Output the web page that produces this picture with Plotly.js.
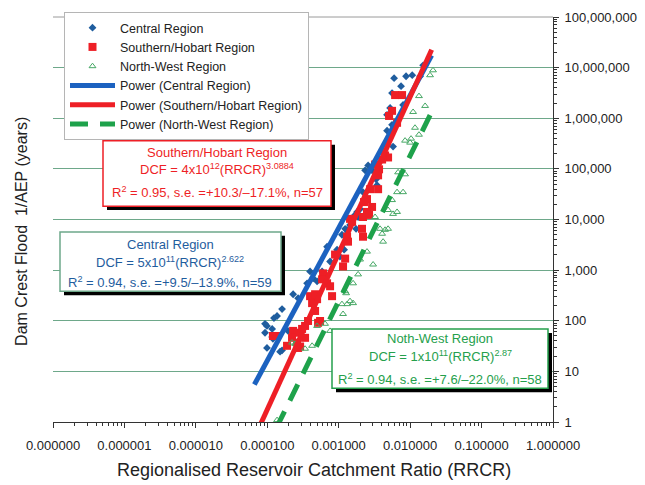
<!DOCTYPE html>
<html>
<head>
<meta charset="utf-8">
<script src="https://cdn.plot.ly/plotly-3.0.1.min.js"></script>
<style>html,body{margin:0;padding:0;background:#fff;}#chart{width:645px;height:485px;}</style>
</head>
<body>
<div id="chart"></div>
<script>
// ---------------- DATA ----------------
const centralX = [5.24e-3, 7.96e-3, 5.96e-3, 8.77e-3, 7.46e-3, 1.38e-2, 5.58e-3, 4.75e-3, 1.52e-2, 4.75e-3,
  5.58e-3, 5.77e-3, 2.58e-3, 2.93e-3, 2.34e-3, 3.33e-3, 3.44e-3, 2.19e-3, 1.81e-3, 1.99e-3,
  1.69e-3, 1.87e-3, 1.44e-3, 1.23e-3, 1.75e-3, 1.31e-3, 1.11e-3, 1.27e-3, 6.87e-4, 1.19e-3,
  9.48e-4, 1.04e-3, 7.57e-4, 3.97e-4, 5.85e-4, 4.38e-4, 4.98e-4, 3.61e-4, 2.30e-4, 2.70e-4,
  1.61e-4, 1.24e-4, 1.37e-4, 9.3e-5, 9.9e-5, 1.17e-4, 9.3e-5, 1.2e-4, 9.9e-5, 1.61e-4,
  1.95e-4, 1.51e-4, 1.17e-4, 1.07e-2, 4.18e-3];
const centralY = [1.60e6, 1.83e6, 6.18e6, 6.76e6, 4.31e6, 6.76e6, 3.14e6, 1.17e6, 1.11e7, 5.67e5,
  7.43e5, 2.76e5, 1.17e5, 9.35e4, 9.35e4, 6.23e4, 4.75e4, 3.47e4, 1.41e4, 1.61e4,
  1.23e4, 1.12e4, 7.83e3, 6.55e3, 6.55e3, 6.26e3, 5.0e3, 5.0e3, 2.91e3, 2.54e3,
  2.54e3, 1.85e3, 1.48e3, 944, 944, 688, 600, 549, 334, 279,
  170, 113, 124, 87, 79, 69, 58, 44, 29, 26,
  63, 24.5, 48, 7.08e6, 2.1e5];

const southX = [6.16e-3, 7.71e-3, 5.58e-3, 5.07e-3, 6.56e-3, 4.46e-3, 4.91e-3, 4.05e-3, 3.67e-3, 3.23e-3,
  3.56e-3, 3.56e-3, 2.75e-3, 2.49e-3, 2.26e-3, 2.93e-3, 2.49e-3, 2.66e-3, 1.44e-3, 1.54e-3,
  2.19e-3, 2.12e-3, 2.19e-3, 1.31e-3, 1.35e-3, 8.89e-4, 1.23e-3, 1.15e-3, 6.04e-4, 5.85e-4,
  6.87e-4, 7.57e-4, 8.07e-4, 3.97e-4, 4.98e-4, 4.24e-4, 4.67e-4, 4.67e-4, 5.48e-4, 3.72e-4,
  3.07e-4, 2.30e-4, 3.38e-4, 2.61e-4, 1.89e-4, 1.37e-4, 3.38e-4, 2.70e-4, 5.14e-4, 2.61e-4,
  2.22e-4, 1.20e-4, 2.88e-4];
const southY = [2.87e6, 2.87e6, 1.40e6, 1.11e6, 8.13e5, 1.84e5, 1.68e5, 1.53e5, 9.8e4, 1.22e5,
  7.46e4, 3.97e4, 3.97e4, 2.53e4, 2.21e4, 1.77e4, 1.41e4, 1.23e4, 1.03e4, 8.97e3,
  1.12e4, 6.55e3, 4.57e3, 4.57e3, 3.65e3, 2.03e3, 1.69e3, 1.18e3, 862, 658,
  549, 480, 306, 306, 267, 223, 334, 156, 99, 99,
  69, 63, 46, 37, 32, 50, 79, 29, 91, 58,
  46, 50, 31];

const nwX = [2.09e-2, 1.90e-2, 1.33e-2, 1.10e-2, 1.62e-2, 1.33e-2, 1.03e-2, 8.49e-3, 9.98e-3, 1.17e-2,
  6.78e-3, 8.49e-3, 7.96e-3, 6.56e-3, 5.58e-3, 4.91e-3, 6.56e-3, 5.77e-3, 4.91e-3, 4.46e-3,
  3.79e-3, 4.05e-3, 4.18e-3, 2.49e-3, 3.03e-3, 1.87e-3, 1.27e-3, 1.44e-3, 1.59e-3, 1.59e-3,
  1.23e-3, 1.31e-3, 1.11e-3, 1.15e-3, 4.98e-4, 6.44e-4, 2.22e-4, 2.45e-4, 3.38e-4, 4.24e-4,
  1.37e-4, 3.23e-3, 1.99e-3, 7.57e-4];
const nwY = [8.85e6, 7.08e6, 2.74e6, 1.33e6, 1.75e6, 4.73e5, 3.95e5, 3.61e5, 3.30e5, 6.49e5,
  8.55e4, 7.81e4, 3.47e4, 3.47e4, 2.42e4, 1.54e4, 1.41e4, 1.29e4, 6.55e3, 6.26e3,
  6.55e3, 5.23e3, 3.65e3, 2.32e3, 1.29e3, 824, 350, 244, 223, 549,
  383, 213, 213, 136, 79, 87, 37, 35, 28, 32,
  1.09, 1.12e4, 1.62e3, 63];

// power-law fit lines (end points)
const centralFitX = [6.6e-5, 2.0e-2];
const centralFitY = [5.5, 1.75e7];
const southFitX = [7.8e-5, 2.0e-2];
const southFitY = [0.82, 2.26e7];
const nwFitX = [1.35e-4, 2.0e-2];
const nwFitY = [0.78, 1.33e6];

const seriesNames = ['Central Region', 'Southern/Hobart Region', 'North-West Region',
  'Power (Central Region)', 'Power (Southern/Hobart Region)', 'Power (North-West Region)'];

const xTickVals = [1e-7, 1e-6, 1e-5, 1e-4, 1e-3, 1e-2, 1e-1, 1];
const xTickText = ['0.000000', '0.000001', '0.000010', '0.000100', '0.001000', '0.010000', '0.100000', '1.000000'];
const yTickVals = [1, 10, 100, 1e3, 1e4, 1e5, 1e6, 1e7, 1e8];
const yTickText = ['1', '10', '100', '1,000', '10,000', '100,000', '1,000,000', '10,000,000', '100,000,000'];

// ---------------- STYLE ----------------
const FONT = 'Liberation Sans, Arial, Helvetica, sans-serif';
const BLUE = '#1c62c0', BLUE_M = '#1f5d9e';
const RED = '#ee1f26';
const GREEN = '#1ea24b', GREEN_M = '#47a866', GREEN_T = '#25a04c';
const GRID = '#6ea88a';

function minorVals(lo, hi) {
  const v = [];
  for (let e = lo; e < hi; e++) for (let m = 2; m <= 9; m++) v.push(m * Math.pow(10, e));
  return v;
}
const xMinor = minorVals(-7, 0);
const yMinor = minorVals(0, 8);

const traces = [
  {x: centralX, y: centralY, name: seriesNames[0], type: 'scatter', mode: 'markers',
   marker: {symbol: 'diamond', size: 6, color: BLUE_M}},
  {x: southX, y: southY, name: seriesNames[1], type: 'scatter', mode: 'markers',
   marker: {symbol: 'square', size: 8, color: RED}},
  {x: nwX, y: nwY, name: seriesNames[2], type: 'scatter', mode: 'markers',
   marker: {symbol: 'triangle-up-open', size: 6, color: GREEN_M, line: {width: 1}}},
  {x: centralFitX, y: centralFitY, name: seriesNames[3], type: 'scatter', mode: 'lines',
   line: {color: BLUE, width: 5}},
  {x: southFitX, y: southFitY, name: seriesNames[4], type: 'scatter', mode: 'lines',
   line: {color: RED, width: 5}},
  {x: nwFitX, y: nwFitY, name: seriesNames[5], type: 'scatter', mode: 'lines',
   line: {color: GREEN, width: 5, dash: '18px,12px'}}
];

// pixel -> paper helpers for boxes / text
const PL = 53, PR = 553, PT = 13, PB = 422;
const fx = px => (px - PL) / (PR - PL);
const fy = py => (PB - py) / (PB - PT);

const shapes = [
  {type: 'line', xref: 'paper', yref: 'paper', x0: 0, x1: 1, y0: 1, y1: 1, line: {color: '#9a9a9a', width: 1}, layer: 'above'}
];
const annotations = [];
function box(x0, y0, x1, y1, border) {
  shapes.push({type: 'rect', xref: 'paper', yref: 'paper', x0: fx(x0 + 4), x1: fx(x1 + 4), y0: fy(y0 + 4), y1: fy(y1 + 4),
    fillcolor: '#000', line: {width: 0}, layer: 'above'});
  shapes.push({type: 'rect', xref: 'paper', yref: 'paper', x0: fx(x0), x1: fx(x1), y0: fy(y0), y1: fy(y1),
    fillcolor: '#fff', line: {color: border, width: 1.5}, layer: 'above'});
}
function txt(cx, cy, text, color, size) {
  annotations.push({xref: 'paper', yref: 'paper', x: fx(cx), y: fy(cy), xanchor: 'center', yanchor: 'middle',
    text: text, showarrow: false, font: {family: FONT, size: size || 13, color: color}});
}

box(103, 138, 331, 204, RED);
txt(217, 150, 'Southern/Hobart Region', RED);
txt(217, 166, 'DCF = 4x10<sup>12</sup>(RRCR)<sup>3.0884</sup>', RED);
txt(217, 190, 'R<sup>2</sup> = 0.95, s.e. =+10.3/\u201317.1%, n=57', RED);

box(60, 230, 281, 290, GRID);
txt(170, 243, 'Central Region', BLUE_M);
txt(170, 260, 'DCF = 5x10<sup>11</sup>(RRCR)<sup>2.622</sup>', BLUE_M);
txt(170, 281, 'R<sup>2</sup> = 0.94, s.e. =+9.5/\u201313.9%, n=59', BLUE_M);

box(332, 328, 548, 388, GREEN_T);
txt(440, 338, 'Noth-West Region', GREEN_T);
txt(440, 355, 'DCF = 1x10<sup>11</sup>(RRCR)<sup>2.87</sup>', GREEN_T);
txt(440, 379, 'R<sup>2</sup> = 0.94, s.e. =+7.6/\u201322.0%, n=58', GREEN_T);

// axis titles
annotations.push({xref: 'paper', yref: 'paper', x: fx(314), y: fy(470), xanchor: 'center', yanchor: 'middle',
  text: 'Regionalised Reservoir Catchment Ratio (RRCR)', showarrow: false, font: {family: FONT, size: 18, color: '#222'}});
annotations.push({xref: 'paper', yref: 'paper', x: fx(22), y: fy(230), xanchor: 'center', yanchor: 'middle', textangle: -90,
  text: 'Dam Crest Flood  1/AEP (years)', showarrow: false, font: {family: FONT, size: 16, color: '#222'}});

const AX = '#333';
const layout = {
  width: 645, height: 485,
  margin: {l: PL, r: 645 - PR, t: PT, b: 485 - PB, pad: 0},
  paper_bgcolor: '#fff', plot_bgcolor: '#fff',
  font: {family: FONT, size: 13, color: '#222'},
  showlegend: true,
  legend: {x: fx(64), y: fy(8), xanchor: 'left', yanchor: 'top', bgcolor: '#fff', bordercolor: '#b5b5b5', borderwidth: 1,
    font: {family: FONT, size: 12.5, color: '#222'}, itemwidth: 45, tracegroupgap: 0},
  xaxis: {type: 'log', range: [-7, 0], showgrid: false, zeroline: false, showline: true, linecolor: AX, linewidth: 1,
    ticks: 'outside', ticklen: 5, tickcolor: AX, tickwidth: 1, tickmode: 'array', tickvals: xTickVals, ticktext: xTickText,
    tickfont: {size: 13, color: '#222'}, ticklabelstandoff: 6,
    minor: {tickmode: 'array', tickvals: xMinor, ticks: 'outside', ticklen: 3, tickcolor: AX, showgrid: false}},
  xaxis2: {type: 'log', range: [-7, 0], overlaying: 'x', anchor: 'y', side: 'bottom', showgrid: false, zeroline: false,
    showline: false, showticklabels: false, ticks: 'inside', ticklen: 5, tickcolor: AX, tickmode: 'array', tickvals: xTickVals,
    minor: {tickmode: 'array', tickvals: xMinor, ticks: 'inside', ticklen: 3, tickcolor: AX, showgrid: false}},
  yaxis: {type: 'log', range: [0, 8], side: 'right', showgrid: true, gridcolor: GRID, gridwidth: 1, zeroline: false,
    showline: true, linecolor: AX, linewidth: 1, ticks: 'outside', ticklen: 5, tickcolor: AX,
    tickmode: 'array', tickvals: yTickVals, ticktext: yTickText, tickfont: {size: 13, color: '#222'}, ticklabelstandoff: 3,
    minor: {tickmode: 'array', tickvals: yMinor, ticks: 'outside', ticklen: 3, tickcolor: AX, showgrid: false}},
  yaxis2: {type: 'log', range: [0, 8], overlaying: 'y', anchor: 'x', side: 'right', showgrid: false, zeroline: false,
    showline: false, showticklabels: false, ticks: 'inside', ticklen: 5, tickcolor: AX, tickmode: 'array', tickvals: yTickVals,
    minor: {tickmode: 'array', tickvals: yMinor, ticks: 'inside', ticklen: 3, tickcolor: AX, showgrid: false}},
  shapes: shapes,
  annotations: annotations
};

Plotly.newPlot('chart', traces, layout, {staticPlot: true, displayModeBar: false});
</script>
</body>
</html>
